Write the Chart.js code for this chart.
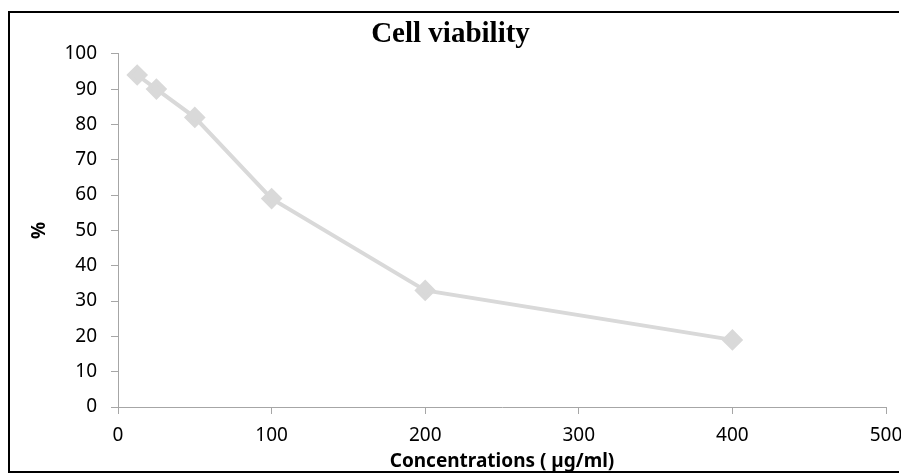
<!DOCTYPE html>
<html>
<head>
<meta charset="utf-8">
<title>Cell viability</title>
<script src="https://cdn.jsdelivr.net/npm/chart.js@4.4.1/dist/chart.umd.min.js"></script>
<style>
	html, body { margin: 0; padding: 0; background: #fff; overflow: hidden; }
	canvas { display: block; }
</style>
</head>
<body>
<canvas id="chart" width="901" height="473"></canvas>
<script>
"use strict";

// Data
var concentrations = [ 12.5, 25, 50, 100, 200, 400 ],
	viability = [ 94, 90, 82, 59, 33, 19 ],
	xTicks = [ 0, 100, 200, 300, 400, 500 ],
	yTicks = [ 0, 10, 20, 30, 40, 50, 60, 70, 80, 90, 100 ];

var points = concentrations.map( function( c, i ) {
	return { x: c, y: viability[ i ] };
} );

var axisGrey = "#a6a6a6",
	tickFont = { family: "'Noto Sans', sans-serif", size: 19 };

// Black frame on the left, top and bottom of the picture (open on the right)
var framePlugin = {
	id: "frame",
	beforeDraw: function( chart ) {
		var ctx = chart.ctx;
		ctx.save();
		ctx.strokeStyle = "#000";
		ctx.lineWidth = 2;
		ctx.beginPath();
		ctx.moveTo( chart.width - 2, 12 );
		ctx.lineTo( 9, 12 );
		ctx.lineTo( 9, 472 );
		ctx.lineTo( chart.width - 2, 472 );
		ctx.stroke();
		ctx.restore();
	}
};

new Chart( document.getElementById( "chart" ), {
	type: "scatter",
	data: {
		datasets: [ {
			label: "Cell viability",
			data: points,
			showLine: true,
			borderColor: "#d9d9d9",
			backgroundColor: "#d9d9d9",
			borderWidth: 4,
			pointStyle: "rectRot",
			pointRadius: 8,
			pointHoverRadius: 8
		} ]
	},
	plugins: [ framePlugin ],
	options: {
		responsive: false,
		animation: false,
		devicePixelRatio: 1,
		layout: { padding: 0 },
		plugins: {
			legend: { display: false },
			tooltip: { enabled: false },
			title: {
				display: true,
				text: "Cell viability",
				color: "#000",
				font: { family: "'Liberation Serif', serif", size: 29, weight: "bold" },
				padding: { top: 17, bottom: 2 }
			}
		},
		scales: {
			x: {
				type: "linear",
				min: xTicks[ 0 ],
				max: xTicks[ xTicks.length - 1 ],
				afterBuildTicks: function( s ) {
					s.ticks = xTicks.map( function( v ) { return { value: v }; } );
				},
				afterFit: function( s ) {
					s.height = 66;
					s.paddingRight = 15;
				},
				grid: { drawOnChartArea: false, tickLength: 7, color: axisGrey },
				border: { color: axisGrey },
				ticks: { color: "#000", font: tickFont, padding: 10, maxRotation: 0 },
				title: {
					display: true,
					text: "Concentrations ( µg/ml)",
					color: "#000",
					font: { family: "'Noto Sans', sans-serif", size: 19, weight: "bold" },
					padding: { top: 0, bottom: 0 }
				}
			},
			y: {
				type: "linear",
				min: yTicks[ 0 ],
				max: yTicks[ yTicks.length - 1 ],
				afterBuildTicks: function( s ) {
					s.ticks = yTicks.map( function( v ) { return { value: v }; } );
				},
				afterFit: function( s ) { s.width = 118; },
				grid: { drawOnChartArea: false, tickLength: 7, color: axisGrey },
				border: { color: axisGrey },
				ticks: { color: "#000", font: tickFont, padding: 14 },
				title: {
					display: true,
					text: "%",
					color: "#000",
					font: { family: "'Noto Sans', sans-serif", size: 19, weight: "bold" },
					padding: { top: 28, bottom: 0 }
				}
			}
		}
	}
} );
</script>
</body>
</html>
